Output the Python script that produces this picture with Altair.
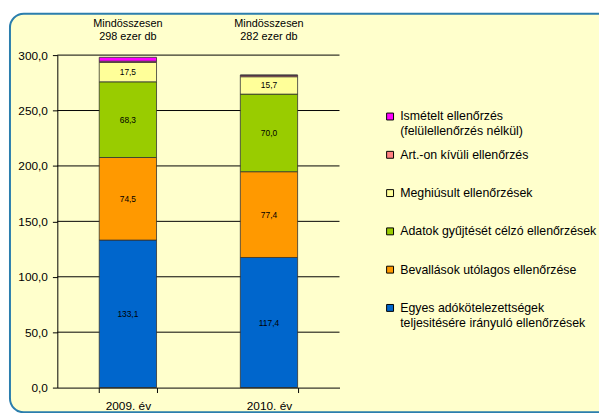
import altair as alt
import pandas as pd

years = ["2009. év", "2010. év"]
categories = [
    "Egyes adókötelezettségek\nteljesitésére irányuló ellenőrzések",
    "Bevallások utólagos ellenőrzése",
    "Adatok gyűjtését célzó ellenőrzések",
    "Meghiúsult ellenőrzések",
    "Art.-on kívüli ellenőrzés",
    "Ismételt ellenőrzés\n(felülellenőrzés nélkül)",
]
colors = ["#0066CC", "#FF9900", "#99CC00", "#FFFF99", "#FF8080", "#FF00FF"]
values_2009 = [133.1, 74.5, 68.3, 17.5, 1.1, 3.5]
values_2010 = [117.4, 77.4, 70.0, 15.7, 1.3, 0.2]
show_label = [True, True, True, True, False, False]
totals = [298, 282]
tick_values = [0, 50, 100, 150, 200, 250, 300]
grid_values = [50, 100, 150, 200, 250, 300]

FONT = "Liberation Sans"

rows = []
for y, vals in zip(years, [values_2009, values_2010]):
    for i, (c, v) in enumerate(zip(categories, vals)):
        rows.append({"year": y, "category": c, "value": v, "idx": i, "show": show_label[i]})
df = pd.DataFrame(rows)

df_tot = pd.DataFrame({"year": years, "total": totals})
df_grid = pd.DataFrame({"v": grid_values})

legend_domain = categories[::-1]
legend_range = colors[::-1]

x_enc = alt.X(
    "year:N",
    sort=years,
    scale=alt.Scale(paddingInner=0.594, paddingOuter=0.297),
    axis=alt.Axis(
        title=None, labelAngle=0, grid=False, tickBand="extent",
        domainColor="#000", tickColor="#000", tickSize=5,
        labelFont=FONT, labelFontSize=12, labelColor="#000", labelPadding=8,
        zindex=1,
    ),
)
y_scale = alt.Scale(domain=[0, 300], nice=False)

frame = alt.Chart(pd.DataFrame({"f": [0]})).mark_rect(
    cornerRadius=14, fill="#FFFFCC", stroke="#2B7EAD", strokeWidth=2
).encode(
    x=alt.value(-48), x2=alt.value(600), y=alt.value(-42), y2=alt.value(362)
)

grid = alt.Chart(df_grid).mark_rule(color="#000", strokeWidth=1).encode(
    y=alt.Y("v:Q", scale=y_scale)
)

bars = alt.Chart(df).mark_bar(stroke="#333", strokeWidth=0.8).encode(
    x=x_enc,
    y=alt.Y(
        "value:Q", stack="zero", scale=y_scale,
        axis=alt.Axis(
            title=None, grid=False, values=tick_values,
            labelExpr="replace(format(datum.value, '.1f'), '.', ',')",
            domainColor="#000", tickColor="#000", tickSize=5,
            labelFont=FONT, labelFontSize=12, labelColor="#000", labelPadding=5,
            zindex=1,
        ),
    ),
    color=alt.Color(
        "category:N",
        scale=alt.Scale(domain=legend_domain, range=legend_range),
        legend=alt.Legend(
            title=None, orient="none", legendX=331, legendY=56, padding=0,
            symbolType="square", symbolSize=49, symbolStrokeColor="#000",
            symbolStrokeWidth=1, symbolOpacity=1,
            labelFont=FONT, labelFontSize=12.5, labelColor="#000",
            labelOffset=4, labelLimit=400,
            labelExpr="split(datum.label, '\\n')",
            gridAlign="all", rowPadding=10.8,
        ),
    ),
    order=alt.Order("idx:Q", sort="ascending"),
)

labels = alt.Chart(df).transform_filter("datum.show").transform_stack(
    stack="value", groupby=["year"],
    sort=[alt.SortField("idx", order="ascending")], as_=["y0", "y1"],
).transform_calculate(
    mid="(datum.y0 + datum.y1) / 2",
    txt="replace(format(datum.value, '.1f'), '.', ',')",
).mark_text(font=FONT, fontSize=8.5, color="#000").encode(
    x=alt.X("year:N", sort=years),
    y=alt.Y("mid:Q", scale=y_scale),
    text="txt:N",
)

tot_text = alt.Chart(df_tot).transform_calculate(
    txt="'Mindösszesen\\n' + datum.total + ' ezer db'"
).mark_text(
    font=FONT, fontSize=11, color="#000", lineBreak="\n", lineHeight=13, baseline="middle"
).encode(
    x=alt.X("year:N", sort=years),
    y=alt.value(-31),
    text="txt:N",
)

chart = alt.layer(frame, grid, bars, labels, tot_text).properties(
    width=286, height=337,
    autosize=alt.AutoSizeParams(type="none"),
    padding={"left": 50, "top": 45, "right": 263, "bottom": 23},
    background="#FFFFFF",
).configure_view(stroke="#000", strokeWidth=1).configure(
    style={"guide-label": {"lineHeight": 15}}
)

chart.save("out.html", embed_options={"renderer": "svg", "actions": False})
